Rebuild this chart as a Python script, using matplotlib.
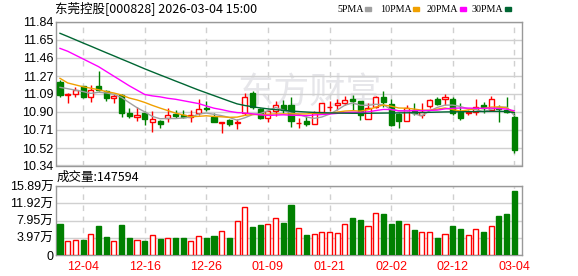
import matplotlib
matplotlib.use("Agg")
import matplotlib.pyplot as plt
import numpy as np

plt.rcParams['font.family'] = ['Liberation Sans', 'Noto Sans CJK SC', 'DejaVu Sans']

## trading days shown on the chart
dates = ["12-01", "12-02", "12-03", "12-04", "12-05", "12-08", "12-09", "12-10", "12-11", "12-12",
         "12-15", "12-16", "12-17", "12-18", "12-19", "12-22", "12-23", "12-24", "12-25", "12-26",
         "12-29", "12-30", "12-31", "01-05", "01-06", "01-07", "01-08", "01-09", "01-12", "01-13",
         "01-14", "01-15", "01-16", "01-19", "01-20", "01-21", "01-22", "01-23", "01-26", "01-27",
         "01-28", "01-29", "01-30", "02-02", "02-03", "02-04", "02-05", "02-06", "02-09", "02-10",
         "02-11", "02-12", "02-13", "02-24", "02-25", "02-26", "02-27", "03-02", "03-03", "03-04"]

opens = [11.21, 11.07, 11.09, 11.17, 11.05, 11.17, 11.12, 11.04, 11.07, 10.89,
         10.85, 10.89, 10.79, 10.80, 10.83, 10.88, 10.87, 10.85, 10.89, 10.94,
         10.85, 10.78, 10.81, 10.78, 10.89, 11.10, 10.93, 10.84, 10.91, 10.97,
         10.97, 10.78, 10.80, 10.77, 10.90, 10.95, 10.97, 10.99, 11.03, 11.01,
         10.82, 10.95, 11.05, 10.98, 10.88, 10.80, 10.92, 10.87, 10.96, 11.03,
         11.03, 11.03, 10.90, 10.89, 10.90, 10.97, 10.92, 10.94, 10.92, 10.85]
closes = [11.07, 11.08, 11.13, 11.05, 11.13, 11.13, 11.04, 11.06, 10.89, 10.86,
          10.87, 10.82, 10.82, 10.77, 10.87, 10.86, 10.85, 10.87, 10.93, 10.93,
          10.79, 10.79, 10.77, 10.79, 11.05, 10.95, 10.84, 10.91, 10.97, 10.92,
          10.80, 10.78, 10.77, 10.89, 10.99, 10.95, 10.99, 11.02, 11.01, 10.87,
          10.94, 11.05, 11.00, 10.76, 10.80, 10.94, 10.89, 10.90, 11.02, 10.98,
          11.05, 10.89, 10.83, 10.89, 10.95, 10.94, 11.03, 10.93, 10.90, 10.50]
highs = [11.23, 11.10, 11.16, 11.17, 11.18, 11.32, 11.13, 11.09, 11.09, 10.94,
         10.95, 10.91, 10.91, 10.81, 10.94, 10.92, 10.92, 10.92, 11.03, 11.01,
         10.89, 10.79, 10.82, 10.82, 11.10, 11.12, 10.94, 10.92, 11.01, 11.02,
         11.05, 10.83, 10.86, 10.91, 10.99, 11.01, 11.03, 11.06, 11.07, 11.01,
         10.99, 11.06, 11.12, 11.03, 10.89, 10.97, 10.99, 10.99, 11.03, 11.05,
         11.09, 11.05, 10.99, 10.92, 11.03, 11.00, 11.06, 10.97, 11.05, 10.89]
lows = [11.05, 10.99, 11.05, 11.04, 11.00, 11.12, 11.01, 10.99, 10.85, 10.84,
        10.80, 10.76, 10.69, 10.73, 10.79, 10.84, 10.84, 10.79, 10.87, 10.91,
        10.79, 10.68, 10.75, 10.72, 10.87, 10.93, 10.82, 10.79, 10.86, 10.89,
        10.74, 10.73, 10.75, 10.77, 10.89, 10.91, 10.92, 10.97, 10.92, 10.81,
        10.82, 10.94, 10.95, 10.75, 10.73, 10.80, 10.87, 10.84, 10.94, 10.97,
        10.97, 10.87, 10.81, 10.87, 10.87, 10.89, 10.92, 10.79, 10.89, 10.47]

volumes = [70950, 31600, 35500, 33900, 49400, 66300, 40900, 31600, 68600, 38600,
           35500, 31600, 47000, 36200, 40100, 38600, 38600, 33200, 44700, 38600,
           43200, 54700, 38600, 79400, 109500, 64000, 68600, 72500, 85600, 73300,
           114900, 61700, 47000, 49400, 54000, 52400, 51700, 72500, 84800, 80200,
           67900, 95600, 94100, 70900, 79400, 72500, 57100, 52400, 54000, 38600,
           49400, 66300, 59400, 47000, 60900, 52400, 67900, 89400, 94100, 147594]

ma5 = [11.154, 11.140, 11.125, 11.110, 11.091, 11.103, 11.096, 11.081, 11.049, 10.994,
       10.942, 10.899, 10.851, 10.827, 10.830, 10.829, 10.835, 10.844, 10.876, 10.886,
       10.873, 10.859, 10.840, 10.812, 10.837, 10.870, 10.881, 10.909, 10.944, 10.918,
       10.886, 10.873, 10.845, 10.831, 10.845, 10.875, 10.918, 10.968, 10.992, 10.968,
       10.966, 10.978, 10.973, 10.923, 10.909, 10.908, 10.877, 10.858, 10.909, 10.945,
       10.969, 10.969, 10.955, 10.930, 10.923, 10.899, 10.927, 10.947, 10.949, 10.860]
ma10 = [11.248, 11.200, 11.180, 11.160, 11.145, 11.130, 11.110, 11.095, 11.074, 11.043,
        11.023, 10.997, 10.966, 10.938, 10.912, 10.886, 10.867, 10.848, 10.852, 10.858,
        10.851, 10.847, 10.842, 10.844, 10.862, 10.871, 10.870, 10.874, 10.878, 10.877,
        10.878, 10.877, 10.877, 10.887, 10.881, 10.881, 10.896, 10.907, 10.911, 10.906,
        10.921, 10.948, 10.971, 10.958, 10.939, 10.937, 10.928, 10.916, 10.916, 10.927,
        10.939, 10.923, 10.907, 10.919, 10.934, 10.934, 10.948, 10.951, 10.940, 10.892]
ma20 = [11.560, 11.530, 11.490, 11.450, 11.410, 11.370, 11.320, 11.270, 11.220, 11.170,
        11.125, 11.080, 11.065, 11.055, 11.040, 11.030, 11.015, 11.000, 10.985, 10.960,
        10.937, 10.922, 10.904, 10.891, 10.887, 10.878, 10.868, 10.861, 10.865, 10.868,
        10.864, 10.862, 10.859, 10.866, 10.871, 10.876, 10.883, 10.891, 10.895, 10.892,
        10.899, 10.912, 10.924, 10.923, 10.910, 10.909, 10.912, 10.911, 10.914, 10.917,
        10.930, 10.936, 10.939, 10.938, 10.936, 10.936, 10.938, 10.933, 10.928, 10.909]
ma30 = [11.717, 11.684, 11.650, 11.616, 11.583, 11.549, 11.515, 11.482, 11.448, 11.415,
        11.381, 11.347, 11.315, 11.283, 11.252, 11.220, 11.189, 11.157, 11.126, 11.097,
        11.068, 11.039, 11.010, 10.982, 10.965, 10.952, 10.940, 10.930, 10.922, 10.915,
        10.908, 10.902, 10.897, 10.893, 10.890, 10.888, 10.886, 10.885, 10.884, 10.884,
        10.884, 10.885, 10.886, 10.887, 10.888, 10.889, 10.890, 10.892, 10.894, 10.896,
        10.898, 10.899, 10.900, 10.901, 10.902, 10.903, 10.904, 10.904, 10.903, 10.890]

price_ticks = [10.34, 10.52, 10.71, 10.90, 11.09, 11.27, 11.46, 11.65, 11.84]
vol_ticks = [0, 39725, 79450, 119175, 158900]
vol_labels = ["0", "3.97万", "7.95万", "11.92万", "15.89万"]

RED = "#ff0000"
GREEN = "#008000"
GRID = "#d0d0d0"
FRAME = "#999999"

x = np.arange(len(dates))
o = np.array(opens)
c = np.array(closes)
up = c >= o

fig = plt.figure(figsize=(5.78, 2.76), dpi=100)
W, H = 578.0, 276.0
axp = fig.add_axes([56 / W, (H - 165.5) / H, 466 / W, 144 / H])
axv = fig.add_axes([56 / W, (H - 255) / H, 466 / W, 69 / H])

for ax in (axp, axv):
    ax.set_xlim(-0.52, 60.0)
    for s in ax.spines.values():
        s.set_color(FRAME)
        s.set_linewidth(1)
    ax.tick_params(length=0, labelsize=9, pad=2)
    ax.set_axisbelow(True)

tick_pos = list(range(3, len(dates), 8))

# price panel
axp.set_ylim(10.34, 11.84)
axp.set_yticks(price_ticks)
axp.set_yticklabels(["%.2f" % v for v in price_ticks])
axp.set_xticks(tick_pos)
axp.set_xticklabels([])
axp.grid(axis="y", color=GRID, lw=1)
axp.grid(axis="x", color=GRID, lw=1, ls=(0, (4, 4)))
axp.text(0.545, 0.50, "东方财富", transform=axp.transAxes, ha="center", va="center",
         fontsize=26, color="#e6e6ea", family=["Noto Sans CJK SC"], zorder=0)

cols = np.where(up, RED, GREEN)
axp.vlines(x, lows, highs, colors=cols, lw=1, zorder=2)
bottom = np.minimum(o, c)
height = np.maximum(np.abs(c - o), 0.004)
axp.bar(x, height, 0.66, bottom=bottom, color=np.where(up, "white", GREEN),
        edgecolor=cols, linewidth=1, zorder=3)

axp.plot(x, ma5, color="#a0a0a0", lw=1, zorder=4)
axp.plot(x, ma10, color="#f0a000", lw=1, zorder=4)
axp.plot(x, ma20, color="#ff00ff", lw=1, zorder=4)
axp.plot(x, ma30, color="#006633", lw=1, zorder=4)

# volume panel
axv.set_ylim(0, 158900)
axv.set_yticks(vol_ticks)
axv.set_yticklabels(vol_labels, family=["Liberation Sans", "Noto Sans CJK SC"])
axv.set_xticks(tick_pos)
axv.set_xticklabels([dates[i] for i in tick_pos], color=RED, fontsize=9)
axv.tick_params(axis="x", pad=4)
axv.grid(axis="y", color=GRID, lw=1)
axv.grid(axis="x", color=GRID, lw=1, ls=(0, (4, 4)))
axv.bar(x, volumes, 0.66, color=np.where(up, "white", GREEN),
        edgecolor=cols, linewidth=1, zorder=3)

# header texts
fig.text(55 / W, 1 - 8.5 / H, "东莞控股[000828] 2026-03-04 15:00", fontsize=9,
         va="center", ha="left", family=["Noto Sans CJK SC"])
leg = [("5PMA", "#a0a0a0", 365), ("10PMA", "#f0a000", 413),
       ("20PMA", "#ff00ff", 460), ("30PMA", "#006633", 505)]
for name, col, mx in leg:
    fig.text((mx - 1.5) / W, 1 - 9 / H, name, fontsize=7.2, va="center", ha="right",
             family=["Liberation Serif"])
    fig.patches.append(plt.Rectangle((mx / W, 1 - 11 / H), 6 / W, 4 / H,
                                     transform=fig.transFigure, color=col, figure=fig))
fig.text(57 / W, 1 - 177 / H, "成交量:147594", fontsize=9, va="center", ha="left",
         family=["Noto Sans CJK SC"])

fig.savefig("out.png", dpi=100)
